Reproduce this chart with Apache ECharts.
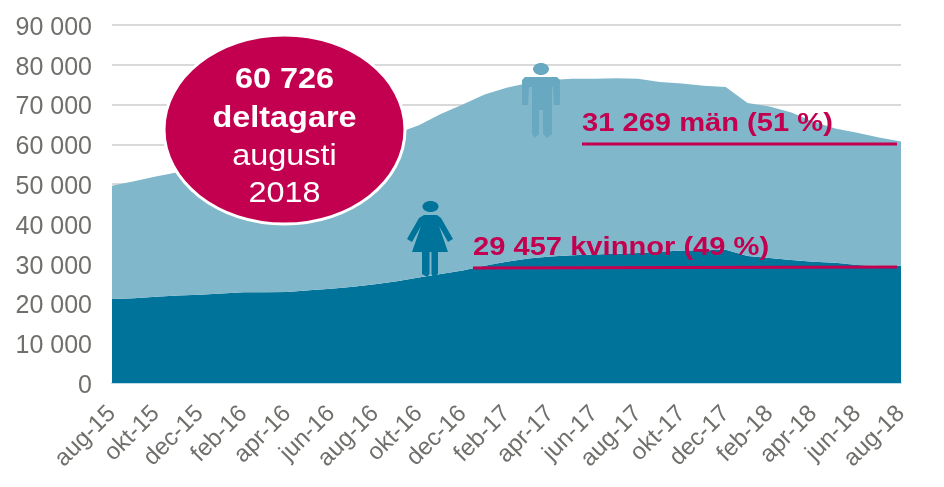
<!DOCTYPE html>
<html><head><meta charset="utf-8">
<style>html,body{margin:0;padding:0;background:#fff}#c{width:944px;height:487px}</style>
<script src="https://cdn.jsdelivr.net/npm/echarts@6/dist/echarts.min.js"></script></head>
<body><div id="c"></div>
<script>
const months = ['aug-15','sep-15','okt-15','nov-15','dec-15','jan-16','feb-16','mar-16','apr-16','maj-16','jun-16','jul-16','aug-16','sep-16','okt-16','nov-16','dec-16','jan-17','feb-17','mar-17','apr-17','maj-17','jun-17','jul-17','aug-17','sep-17','okt-17','nov-17','dec-17','jan-18','feb-18','mar-18','apr-18','maj-18','jun-18','jul-18','aug-18'];
const kvinnor = [21100,21300,21700,22000,22200,22500,22800,22800,22900,23300,23700,24200,24800,25600,26500,27400,28300,29500,30500,31300,31800,32100,32300,32500,32700,33000,33300,33400,33500,31900,31400,30900,30500,30200,29650,29400,29457];
const man = [28500,29400,30200,31000,31300,31500,32200,33200,34100,34700,35300,35800,36400,37200,38300,40200,41700,43000,43700,44100,44400,44400,44200,44100,43800,42700,42000,41300,40900,38500,38100,37100,35200,33800,33250,32300,31269];
const FONT = '"Liberation Sans", Arial, sans-serif';
const GREY = '#6f6f6b', RED = '#c3004f', DARK = '#00739a', LIGHT = '#80b7ca', MANICON = '#68a8c0';
const fmt = v => String(v).replace(/\B(?=(\d{3})+$)/g, ' ');
const chart = echarts.init(document.getElementById('c'), null, {renderer:'canvas'});
const txt = (x,y,text,size,weight,fill,align,sx) => ({type:'text',z:20,x:x,y:y,scaleX:sx||1,style:{text:text,fontFamily:FONT,fontSize:size,fontWeight:weight,fill:fill,align:align||'left',verticalAlign:'middle'}});
const poly = (pts,fill) => ({type:'polygon',z:12,shape:{points:pts},style:{fill:fill}});
chart.setOption({
  animation:false,
  grid:{left:112,right:43,top:25,bottom:104},
  xAxis:{type:'category',boundaryGap:false,data:months,
    axisLine:{lineStyle:{color:'#bcdcea',width:2}},axisTick:{show:false},
    axisLabel:{interval:1,rotate:45,margin:27,color:GREY,fontFamily:FONT,fontSize:24,showMaxLabel:true}},
  yAxis:{type:'value',min:0,max:90000,interval:10000,
    axisLine:{show:false},axisTick:{show:false},
    splitLine:{lineStyle:{color:'#d9d9d9',width:2}},
    axisLabel:{margin:20,color:GREY,fontFamily:FONT,fontSize:25,formatter:fmt,verticalAlign:'top',lineHeight:6}},
  series:[
    {name:'Kvinnor',type:'line',stack:'t',data:kvinnor,symbol:'none',lineStyle:{width:0},areaStyle:{color:DARK,opacity:1},itemStyle:{color:DARK}},
    {name:'Män',type:'line',stack:'t',data:man,symbol:'none',lineStyle:{width:0},areaStyle:{color:LIGHT,opacity:1},itemStyle:{color:LIGHT}}
  ],
  graphic:{elements:[
    {type:'ellipse',z:10,shape:{cx:284.5,cy:129.5,rx:120.5,ry:94.5},style:{fill:RED,stroke:'#fff',lineWidth:3}},
    txt(284.5,80,'60 726',30,'bold','#fff','center',1.08),
    txt(284.5,119,'deltagare',30,'bold','#fff','center',1.08),
    txt(284.5,157,'augusti',30,'normal','#fff','center',1.08),
    txt(284.5,194,'2018',30,'normal','#fff','center',1.08),
    txt(582,124,'31 269 män (51 %)',26,'bold',RED,'left',1.12),
    txt(473,248,'29 457 kvinnor (49 %)',26,'bold',RED,'left',1.12),
    {type:'line',z:15,shape:{x1:582,y1:144,x2:897,y2:144},style:{stroke:RED,lineWidth:3}},
    {type:'line',z:15,shape:{x1:473,y1:268,x2:897,y2:267},style:{stroke:RED,lineWidth:3}},
    {type:'ellipse',z:12,shape:{cx:541,cy:69,rx:8,ry:6},style:{fill:MANICON}},
    poly([[525,77],[557,77],[560,80],[560,105],[554,105],[553,87],[552,87],[552,134],[547,138],[543,134],[543,110],[539,110],[539,134],[535,138],[532,134],[532,87],[529,87],[528,105],[522,105],[522,80]],MANICON),
    {type:'ellipse',z:12,shape:{cx:430.5,cy:206.5,rx:8,ry:5.5},style:{fill:DARK}},
    poly([[424,215],[437,215],[441,218],[453,239],[448,242],[439,226],[448,252],[438,252],[438,274],[433,277],[431.5,274],[431.5,252],[429.5,252],[429.5,274],[427,277],[422,274],[422,252],[412,252],[421,226],[412,242],[407,239],[419,218]],DARK)
  ]}
});
</script></body></html>
